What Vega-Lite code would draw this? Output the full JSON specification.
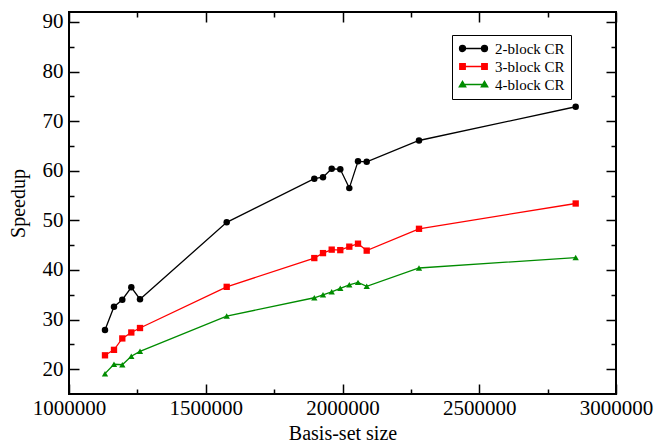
{
  "$schema": "https://vega.github.io/schema/vega-lite/v6.json",
  "width": 547,
  "height": 382,
  "autosize": "none",
  "padding": {"left": 69, "top": 12, "right": 38, "bottom": 50},
  "background": "white",
  "config": {
    "font": "Liberation Serif",
    "view": {"stroke": "black", "strokeWidth": 2},
    "axis": {
      "domain": false,
      "grid": false,
      "labelFont": "Liberation Serif",
      "labelFontSize": 21,
      "labelColor": "black",
      "labelFlush": false,
      "labelOverlap": false,
      "titleFont": "Liberation Serif",
      "titleFontSize": 20,
      "titleFontWeight": "normal",
      "titleColor": "black",
      "tickColor": "black",
      "tickWidth": 1.5
    }
  },
  "data": {
    "values": [
      {"series": "2-block CR", "size": 1131600, "speedup": 27.9},
      {"series": "2-block CR", "size": 1164500, "speedup": 32.6},
      {"series": "2-block CR", "size": 1194900, "speedup": 34.0},
      {"series": "2-block CR", "size": 1227800, "speedup": 36.5},
      {"series": "2-block CR", "size": 1259600, "speedup": 34.1},
      {"series": "2-block CR", "size": 1576600, "speedup": 49.6},
      {"series": "2-block CR", "size": 1896900, "speedup": 58.4},
      {"series": "2-block CR", "size": 1928700, "speedup": 58.7},
      {"series": "2-block CR", "size": 1960500, "speedup": 60.4},
      {"series": "2-block CR", "size": 1991900, "speedup": 60.3},
      {"series": "2-block CR", "size": 2024900, "speedup": 56.5},
      {"series": "2-block CR", "size": 2056700, "speedup": 61.9},
      {"series": "2-block CR", "size": 2088500, "speedup": 61.8},
      {"series": "2-block CR", "size": 2279700, "speedup": 66.1},
      {"series": "2-block CR", "size": 2852600, "speedup": 72.9},
      {"series": "3-block CR", "size": 1131600, "speedup": 22.8},
      {"series": "3-block CR", "size": 1164500, "speedup": 23.9},
      {"series": "3-block CR", "size": 1194900, "speedup": 26.2},
      {"series": "3-block CR", "size": 1227800, "speedup": 27.4},
      {"series": "3-block CR", "size": 1259600, "speedup": 28.3},
      {"series": "3-block CR", "size": 1576600, "speedup": 36.6},
      {"series": "3-block CR", "size": 1896900, "speedup": 42.4},
      {"series": "3-block CR", "size": 1928700, "speedup": 43.4},
      {"series": "3-block CR", "size": 1960500, "speedup": 44.1},
      {"series": "3-block CR", "size": 1991900, "speedup": 44.0},
      {"series": "3-block CR", "size": 2024900, "speedup": 44.7},
      {"series": "3-block CR", "size": 2056700, "speedup": 45.3},
      {"series": "3-block CR", "size": 2088500, "speedup": 43.9},
      {"series": "3-block CR", "size": 2279700, "speedup": 48.3},
      {"series": "3-block CR", "size": 2852600, "speedup": 53.4},
      {"series": "4-block CR", "size": 1131600, "speedup": 19.1},
      {"series": "4-block CR", "size": 1164500, "speedup": 21.0},
      {"series": "4-block CR", "size": 1194900, "speedup": 20.9},
      {"series": "4-block CR", "size": 1227800, "speedup": 22.6},
      {"series": "4-block CR", "size": 1259600, "speedup": 23.6},
      {"series": "4-block CR", "size": 1576600, "speedup": 30.7},
      {"series": "4-block CR", "size": 1896900, "speedup": 34.4},
      {"series": "4-block CR", "size": 1928700, "speedup": 35.0},
      {"series": "4-block CR", "size": 1960500, "speedup": 35.6},
      {"series": "4-block CR", "size": 1991900, "speedup": 36.3},
      {"series": "4-block CR", "size": 2024900, "speedup": 37.0},
      {"series": "4-block CR", "size": 2056700, "speedup": 37.5},
      {"series": "4-block CR", "size": 2088500, "speedup": 36.7},
      {"series": "4-block CR", "size": 2279700, "speedup": 40.4},
      {"series": "4-block CR", "size": 2852600, "speedup": 42.5}
    ]
  },
  "layer": [
    {
      "mark": {"type": "line", "strokeWidth": 1.3},
      "encoding": {
        "x": {
          "field": "size", "type": "quantitative",
          "scale": {"domain": [1000000, 3000000], "nice": false, "zero": false},
          "axis": {
            "orient": "bottom",
            "title": "Basis-set size",
            "values": [1000000, 1500000, 2000000, 2500000, 3000000],
            "format": "d",
            "tickSize": -10,
            "labelPadding": 13,
            "titlePadding": 5
          }
        },
        "y": {
          "field": "speedup", "type": "quantitative",
          "scale": {"domain": [15, 92], "nice": false, "zero": false},
          "axis": {
            "orient": "left",
            "title": "Speedup",
            "values": [20, 30, 40, 50, 60, 70, 80, 90],
            "tickSize": -10,
            "labelPadding": 16,
            "titlePadding": 14
          }
        },
        "color": {
          "field": "series", "type": "nominal",
          "scale": {"domain": ["2-block CR", "3-block CR", "4-block CR"], "range": ["#000000", "#ff0000", "#008c00"]},
          "legend": {
            "title": null,
            "orient": "none",
            "legendX": 383,
            "legendY": 23,
            "strokeColor": "black",
            "fillColor": "white",
            "padding": 6,
            "labelFont": "Liberation Serif",
            "labelFontSize": 15,
            "labelColor": "black",
            "labelOffset": 22,
            "rowPadding": 2,
            "symbolSize": 100,
            "symbolStrokeWidth": 1.3,
            "encode": {
              "symbols": {
                "update": {
                  "shape": {"signal": "datum.value === '2-block CR' ? 'M-0.6,0H3.8M-1.2,0A0.6,0.6 0 1,0 0,0A0.6,0.6 0 1,0 -1.2,0ZM3.2,0A0.6,0.6 0 1,0 4.4,0A0.6,0.6 0 1,0 3.2,0Z' : datum.value === '3-block CR' ? 'M-0.6,0H3.8M-1.15,-0.55H-0.05V0.55H-1.15ZM3.25,-0.55H4.35V0.55H3.25Z' : 'M-0.6,0H3.8M-0.6,-0.65L0.05,0.45H-1.25ZM3.8,-0.65L4.45,0.45H3.15Z'"},
                  "fill": {"scale": "color", "field": "value"},
                  "stroke": {"scale": "color", "field": "value"},
                  "opacity": {"value": 1}
                }
              }
            }
          }
        }
      }
    },
    {
      "transform": [{"filter": "datum.series === '2-block CR'"}],
      "mark": {"type": "point", "shape": "circle", "filled": true, "size": 42, "opacity": 1},
      "encoding": {
        "x": {
          "field": "size", "type": "quantitative",
          "axis": {
            "orient": "top", "title": null, "labels": false,
            "values": [1000000, 1500000, 2000000, 2500000, 3000000],
            "tickSize": -10
          }
        },
        "y": {
          "field": "speedup", "type": "quantitative",
          "axis": {
            "orient": "right", "title": null, "labels": false,
            "values": [20, 30, 40, 50, 60, 70, 80, 90],
            "tickSize": -10
          }
        },
        "color": {"field": "series", "type": "nominal", "legend": null}
      }
    },
    {
      "transform": [{"filter": "datum.series === '3-block CR'"}],
      "mark": {"type": "point", "shape": "square", "filled": true, "size": 40, "opacity": 1},
      "encoding": {
        "x": {
          "field": "size", "type": "quantitative",
          "axis": {
            "orient": "bottom", "title": null, "labels": false,
            "values": [1250000, 1750000, 2250000, 2750000],
            "tickSize": -5
          }
        },
        "y": {
          "field": "speedup", "type": "quantitative",
          "axis": {
            "orient": "left", "title": null, "labels": false,
            "values": [25, 35, 45, 55, 65, 75, 85],
            "tickSize": -5
          }
        },
        "color": {"field": "series", "type": "nominal", "legend": null}
      }
    },
    {
      "transform": [{"filter": "datum.series === '4-block CR'"}],
      "mark": {"type": "point", "shape": "triangle-up", "filled": true, "size": 40, "opacity": 1},
      "encoding": {
        "x": {
          "field": "size", "type": "quantitative",
          "axis": {
            "orient": "top", "title": null, "labels": false,
            "values": [1250000, 1750000, 2250000, 2750000],
            "tickSize": -5
          }
        },
        "y": {
          "field": "speedup", "type": "quantitative",
          "axis": {
            "orient": "right", "title": null, "labels": false,
            "values": [25, 35, 45, 55, 65, 75, 85],
            "tickSize": -5
          }
        },
        "color": {"field": "series", "type": "nominal", "legend": null}
      }
    }
  ],
  "resolve": {"axis": {"x": "independent", "y": "independent"}}
}
